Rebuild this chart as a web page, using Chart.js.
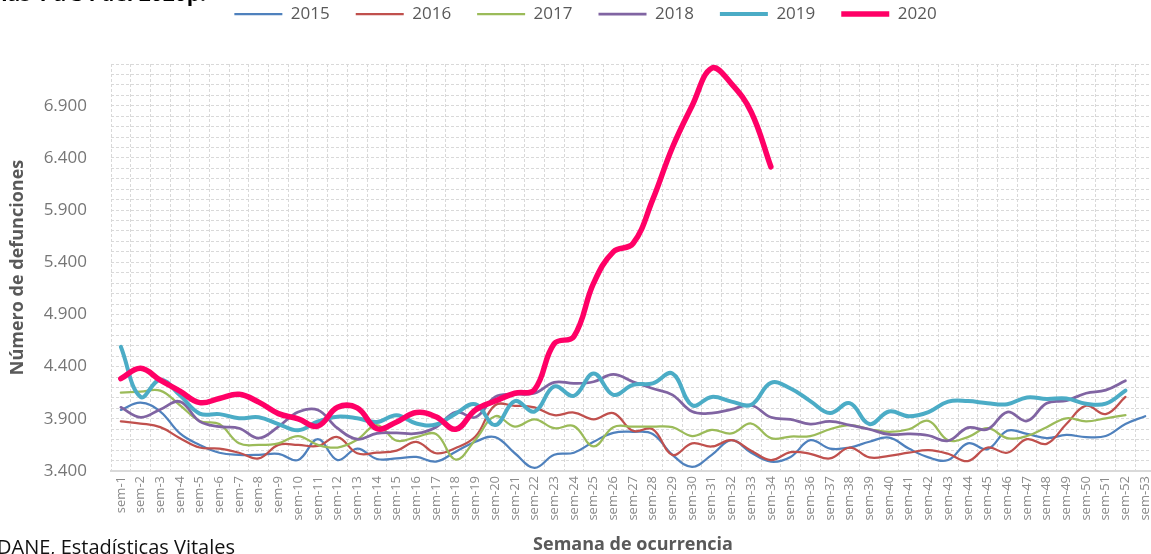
<!DOCTYPE html>
<html lang="es">
<head>
<meta charset="utf-8">
<title>Defunciones por semana</title>
<script src="https://cdn.jsdelivr.net/npm/chart.js@4.4.0/dist/chart.umd.min.js"></script>
<style>
    html, body { margin: 0; padding: 0; overflow: hidden; background: #fff; }
    #marco { position: relative; width: 1155px; height: 560px; }
    #grafico { position: absolute; left: 0; top: 0; }
    #titulo {
        position: absolute; right: 949px; top: -18px;
        font: bold 21px 'Open Sans', sans-serif; line-height: 22px;
        color: #000; white-space: nowrap;
    }
    #fuente {
        position: absolute; left: -3px; top: 537px;
        font: 20px 'Open Sans', sans-serif; line-height: 20px;
        color: #111; white-space: nowrap;
    }
</style>
</head>
<body>
<div id="marco">
    <canvas id="grafico" width="1155" height="560"></canvas>
    <div id="titulo">Semanas 1 a 34 del 2020p.</div>
    <div id="fuente">DANE, Estadísticas Vitales</div>
</div>
<script>
// Semanas epidemiologicas (eje x)
const semanas = [
    'sem-1', 'sem-2', 'sem-3', 'sem-4', 'sem-5', 'sem-6', 'sem-7', 'sem-8', 'sem-9', 'sem-10',
    'sem-11', 'sem-12', 'sem-13', 'sem-14', 'sem-15', 'sem-16', 'sem-17', 'sem-18', 'sem-19', 'sem-20',
    'sem-21', 'sem-22', 'sem-23', 'sem-24', 'sem-25', 'sem-26', 'sem-27', 'sem-28', 'sem-29', 'sem-30',
    'sem-31', 'sem-32', 'sem-33', 'sem-34', 'sem-35', 'sem-36', 'sem-37', 'sem-38', 'sem-39', 'sem-40',
    'sem-41', 'sem-42', 'sem-43', 'sem-44', 'sem-45', 'sem-46', 'sem-47', 'sem-48', 'sem-49', 'sem-50',
    'sem-51', 'sem-52', 'sem-53'
];

// Numero de defunciones por semana
const def2015 = [
    3985, 4055, 3970, 3760, 3650, 3575, 3555, 3555, 3565, 3505,
    3705, 3505, 3615, 3515, 3520, 3535, 3490, 3585, 3680, 3725,
    3570, 3430, 3555, 3575, 3680, 3765, 3775, 3755, 3555, 3440,
    3555, 3695, 3575, 3490, 3535, 3695, 3615, 3625, 3680, 3720,
    3615, 3530, 3505, 3665, 3610, 3785, 3755, 3715, 3745, 3725,
    3735, 3850, 3925
];
const def2016 = [
    3875, 3855, 3820, 3715, 3625, 3615, 3575, 3520, 3650, 3650,
    3640, 3725, 3570, 3575, 3595, 3680, 3570, 3620, 3730, 4030,
    4025, 4010, 3935, 3960, 3895, 3955, 3785, 3800, 3555, 3665,
    3635, 3695, 3595, 3505, 3580, 3565, 3520, 3625, 3530, 3545,
    3575, 3600, 3565, 3495, 3625, 3575, 3705, 3660, 3850, 4025,
    3945, 4110
];
const def2017 = [
    4150, 4160, 4170, 4030, 3880, 3850, 3665, 3650, 3665, 3735,
    3650, 3625, 3700, 3840, 3690, 3725, 3755, 3510, 3700, 3925,
    3825, 3895, 3810, 3830, 3635, 3820, 3825, 3825, 3820, 3735,
    3795, 3760, 3855, 3715, 3730, 3735, 3800, 3840, 3800, 3775,
    3800, 3880, 3695, 3725, 3810, 3715, 3735, 3820, 3905, 3875,
    3905, 3935
];
const def2018 = [
    4010, 3915, 3990, 4065, 3875, 3825, 3810, 3715, 3825, 3965,
    3985, 3810, 3705, 3760, 3765, 3760, 3820, 3965, 3915, 4110,
    4135, 4145, 4250, 4240, 4255, 4325, 4255, 4190, 4130, 3970,
    3955, 3990, 4030, 3915, 3895, 3850, 3875, 3840, 3800, 3750,
    3755, 3740, 3690, 3815, 3800, 3965, 3880, 4050, 4075, 4145,
    4175, 4265
];
const def2019 = [
    4590, 4110, 4275, 4125, 3950, 3945, 3905, 3915, 3850, 3790,
    3875, 3920, 3905, 3870, 3935, 3855, 3845, 3950, 4040, 3840,
    4070, 3970, 4210, 4120, 4335, 4130, 4225, 4240, 4335, 4030,
    4110, 4065, 4035, 4245, 4190, 4070, 3955, 4050, 3850, 3970,
    3925, 3965, 4065, 4070, 4050, 4040, 4105, 4090, 4095, 4045,
    4045, 4170
];
const def2020 = [
    4285, 4385, 4270, 4165, 4055, 4095, 4135, 4060, 3950, 3900,
    3830, 4010, 4005, 3805, 3870, 3960, 3920, 3800, 3985, 4070,
    4145, 4180, 4620, 4690, 5200, 5500, 5580, 6000, 6500, 6900,
    7260, 7110, 6840, 6315
];

// Marcas del eje y
const ticksY = [3400, 3900, 4400, 4900, 5400, 5900, 6400, 6900];
const etiquetasY = ['3.400', '3.900', '4.400', '4.900', '5.400', '5.900', '6.400', '6.900'];

Chart.defaults.font.family = "'Open Sans', sans-serif";

function serie(label, data, color, width, order) {
    return {
        label: label,
        data: data,
        borderColor: color,
        backgroundColor: color,
        borderWidth: width,
        borderCapStyle: 'round',
        borderJoinStyle: 'round',
        pointRadius: 0,
        pointHoverRadius: 0,
        pointStyle: 'line',
        tension: 0.4,
        fill: false,
        order: order
    };
}

// Ajusta la leyenda a la posicion del original
const ajusteLeyenda = {
    id: 'ajusteLeyenda',
    afterLayout(chart) {
        const lg = chart.legend;
        if (!lg) return;
        const dx = 585.5 - (lg.left + lg.right) / 2;
        lg.left += dx;
        lg.right += dx;
        const h = lg.height;
        lg.top = 14 - 26 - 8.5;
        lg.bottom = lg.top + h;
    }
};

new Chart(document.getElementById('grafico'), {
    type: 'line',
    data: {
        labels: semanas,
        datasets: [
            serie('2015', def2015, '#4f81bd', 2.25, 6),
            serie('2016', def2016, '#c0504d', 2.25, 5),
            serie('2017', def2017, '#9bbb59', 2.25, 4),
            serie('2018', def2018, '#8064a2', 2.75, 3),
            serie('2019', def2019, '#4bacc6', 4, 2),
            serie('2020', def2020, '#ff0066', 5.5, 1)
        ]
    },
    options: {
        responsive: false,
        animation: false,
        layout: { padding: { top: 11, left: 0, right: 0, bottom: 0 } },
        plugins: {
            tooltip: { enabled: false },
            legend: {
                position: 'top',
                labels: {
                    usePointStyle: true,
                    pointStyle: 'line',
                    pointStyleWidth: 48,
                    padding: 26,
                    color: '#595959',
                    font: { size: 17 },
                    sort: (a, b) => a.datasetIndex - b.datasetIndex
                }
            }
        },
        scales: {
            x: {
                offset: true,
                afterFit(s) { s.height = 89; s.paddingLeft = 0; s.paddingRight = 0; },
                ticks: {
                    autoSkip: false,
                    maxRotation: 90,
                    minRotation: 90,
                    padding: 5,
                    color: '#8a8a8a',
                    font: { size: 13 }
                },
                grid: { offset: true, color: '#d9d9d9', drawTicks: false },
                border: { display: true, color: '#d9d9d9', width: 2, dash: [3, 2] },
                title: {
                    display: true,
                    text: 'Semana de ocurrencia',
                    color: '#595959',
                    font: { size: 18, weight: 'bold' },
                    padding: { top: 0, bottom: 4 }
                }
            },
            y: {
                min: 3400,
                max: 7300,
                afterFit(s) { s.width = 111; s.paddingTop = 0; s.paddingBottom = 0; },
                ticks: {
                    stepSize: 100,
                    autoSkip: false,
                    padding: 24,
                    color: '#767676',
                    font: { size: 17 },
                    callback(v) {
                        const i = ticksY.indexOf(v);
                        return i >= 0 ? etiquetasY[i] : '';
                    }
                },
                grid: { color: '#d9d9d9', drawTicks: false },
                border: { display: false, dash: [3, 2] },
                title: {
                    display: true,
                    text: 'Número de defunciones',
                    color: '#595959',
                    font: { size: 18, weight: 'bold' },
                    padding: { top: 7, bottom: 0 }
                }
            }
        }
    },
    plugins: [ajusteLeyenda]
});
</script>
</body>
</html>
